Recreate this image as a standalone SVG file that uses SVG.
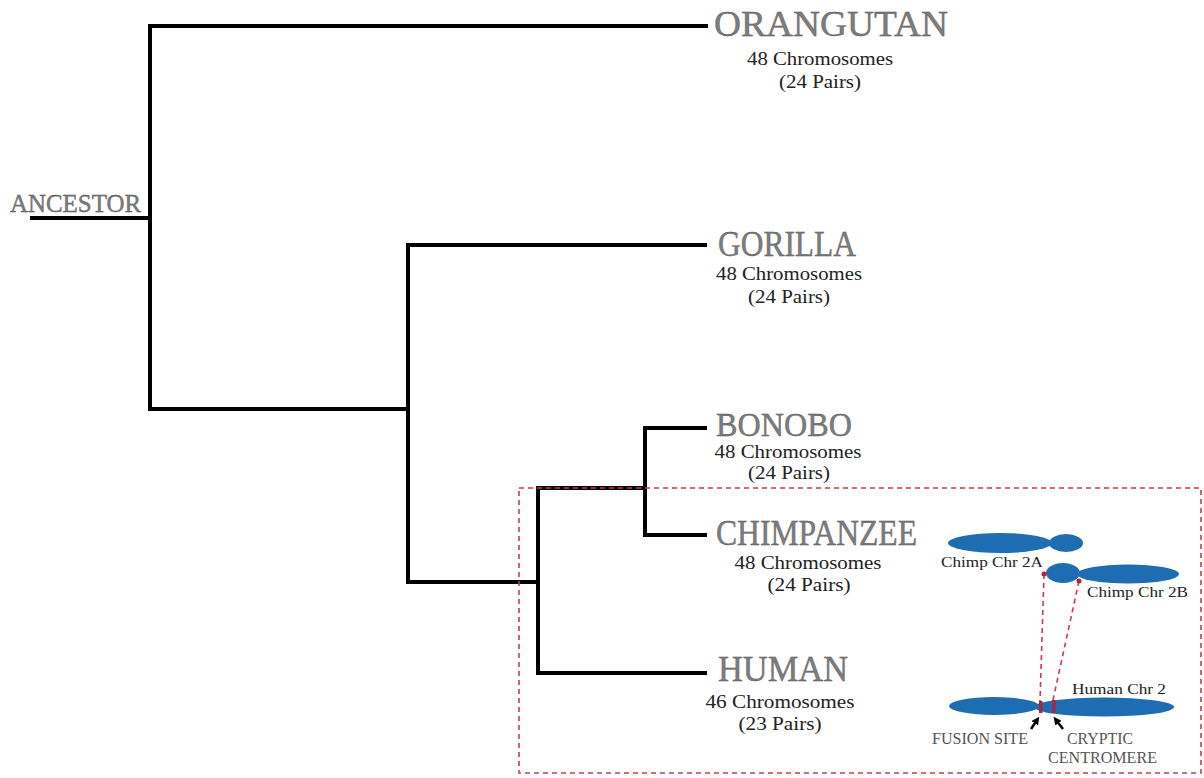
<svg xmlns="http://www.w3.org/2000/svg" width="1204" height="778" viewBox="0 0 1204 778">
  <style>
    .branch { fill: none; stroke: #000; stroke-width: 4; stroke-linecap: square; }
    .title { font-family: "Liberation Serif", "DejaVu Serif", serif; fill: #7d7d7d; stroke: #4a4a4a; stroke-width: 0.35; }
    .count { font-family: "Liberation Serif", "DejaVu Serif", serif; font-size: 18px; fill: #222; }
    .chrlabel { font-family: "Liberation Serif", "DejaVu Serif", serif; font-size: 15px; fill: #222; }
    .caps { font-family: "Liberation Serif", "DejaVu Serif", serif; font-size: 16px; fill: #555; }
    .chr { fill: #1e6db3; }
    .band { fill: #a8283a; }
    .dash { fill: none; stroke: #cf3a48; stroke-width: 1.6; stroke-dasharray: 5 4; }
    .arrow { stroke: #000; stroke-width: 2.5; fill: none; }
  </style>
  <defs>
    <marker id="head" viewBox="0 0 10 10" refX="5" refY="5" markerWidth="3.2" markerHeight="3.2" orient="auto">
      <path d="M0,0 L10,5 L0,10 z" fill="#000"/>
    </marker>
  </defs>
  <rect width="1204" height="778" fill="#fff"/>

  <!-- tree branches -->
  <g id="connectors">
    <path class="branch" d="M32,218 H150"/>
    <path class="branch" d="M150,26 V409"/>
    <path class="branch" d="M150,26 H706"/>
    <path class="branch" d="M150,409 H408"/>
    <path class="branch" d="M408,245 V582"/>
    <path class="branch" d="M408,245 H705"/>
    <path class="branch" d="M408,582 H538"/>
    <path class="branch" d="M538,488 V673"/>
    <path class="branch" d="M538,488 H645"/>
    <path class="branch" d="M538,673 H705"/>
    <path class="branch" d="M645,428 V535"/>
    <path class="branch" d="M645,428 H705"/>
    <path class="branch" d="M645,535 H705"/>
  </g>

  <g id="ancestor">
    <text class="title" x="10" y="212" font-size="25" textLength="131" lengthAdjust="spacingAndGlyphs">ANCESTOR</text>
  </g>

  <g id="orangutan">
    <text class="title" x="714" y="36" font-size="35" textLength="234" lengthAdjust="spacingAndGlyphs">ORANGUTAN</text>
    <text class="count" x="820" y="65" text-anchor="middle" textLength="146" lengthAdjust="spacingAndGlyphs">48 Chromosomes</text>
    <text class="count" x="820" y="88" text-anchor="middle" textLength="82" lengthAdjust="spacingAndGlyphs">(24 Pairs)</text>
  </g>

  <g id="gorilla">
    <text class="title" x="718" y="256" font-size="35" textLength="138" lengthAdjust="spacingAndGlyphs">GORILLA</text>
    <text class="count" x="789" y="280" text-anchor="middle" textLength="146" lengthAdjust="spacingAndGlyphs">48 Chromosomes</text>
    <text class="count" x="789" y="303" text-anchor="middle" textLength="82" lengthAdjust="spacingAndGlyphs">(24 Pairs)</text>
  </g>

  <g id="bonobo">
    <text class="title" x="716" y="436" font-size="33" textLength="136" lengthAdjust="spacingAndGlyphs">BONOBO</text>
    <text class="count" x="788" y="458" font-size="17" text-anchor="middle" textLength="147" lengthAdjust="spacingAndGlyphs">48 Chromosomes</text>
    <text class="count" x="789" y="479" text-anchor="middle" textLength="82" lengthAdjust="spacingAndGlyphs">(24 Pairs)</text>
  </g>

  <g id="chimpanzee">
    <text class="title" x="716" y="545" font-size="35" textLength="201" lengthAdjust="spacingAndGlyphs">CHIMPANZEE</text>
    <text class="count" x="808" y="569" text-anchor="middle" textLength="147" lengthAdjust="spacingAndGlyphs">48 Chromosomes</text>
    <text class="count" x="809" y="591" text-anchor="middle" textLength="83" lengthAdjust="spacingAndGlyphs">(24 Pairs)</text>
  </g>

  <g id="human">
    <text class="title" x="718" y="681" font-size="35" textLength="130" lengthAdjust="spacingAndGlyphs">HUMAN</text>
    <text class="count" x="780" y="708" text-anchor="middle" textLength="149" lengthAdjust="spacingAndGlyphs">46 Chromosomes</text>
    <text class="count" x="780" y="730" text-anchor="middle" textLength="83" lengthAdjust="spacingAndGlyphs">(23 Pairs)</text>
  </g>

  <!-- boxed inset: chromosome 2 fusion -->
  <g id="fusion-box">
    <rect class="dash" x="519" y="488" width="682" height="285"/>
  </g>

  <g id="chimp-chr-2a">
    <ellipse class="chr" cx="1000" cy="543" rx="52" ry="10"/>
    <ellipse class="chr" cx="1066" cy="543" rx="17" ry="9"/>
    <text class="chrlabel" x="941" y="567" textLength="102" lengthAdjust="spacingAndGlyphs">Chimp Chr 2A</text>
  </g>

  <g id="chimp-chr-2b">
    <ellipse class="chr" cx="1063" cy="573" rx="17" ry="10"/>
    <ellipse class="chr" cx="1128" cy="574" rx="51" ry="9.5"/>
    <text class="chrlabel" x="1087" y="597" textLength="101" lengthAdjust="spacingAndGlyphs">Chimp Chr 2B</text>
  </g>

  <g id="human-chr-2">
    <ellipse class="chr" cx="994" cy="706" rx="45" ry="9"/>
    <ellipse class="chr" cx="1104" cy="707" rx="70" ry="9.5"/>
    <rect class="band" x="1039" y="701" width="3.5" height="12"/>
    <rect class="band" x="1052" y="700" width="3.5" height="13"/>
    <text class="chrlabel" x="1072" y="694" textLength="94" lengthAdjust="spacingAndGlyphs">Human Chr 2</text>
  </g>

  <!-- dotted mapping from chimp ends to human bands -->
  <g id="mapping">
    <path class="dash" d="M1044,574 L1040,701"/>
    <path class="dash" d="M1079,581 L1053,700"/>
    <circle cx="1044" cy="574" r="2.5" fill="#b82233"/>
    <circle cx="1079" cy="581" r="2.5" fill="#b82233"/>
  </g>

  <g id="fusion-site">
    <path class="arrow" d="M1031,729 L1037,720" marker-end="url(#head)"/>
    <text class="caps" x="932" y="744" textLength="96" lengthAdjust="spacingAndGlyphs">FUSION SITE</text>
  </g>

  <g id="cryptic-centromere">
    <path class="arrow" d="M1063,729 L1056,720" marker-end="url(#head)"/>
    <text class="caps" x="1067" y="744" textLength="66" lengthAdjust="spacingAndGlyphs">CRYPTIC</text>
    <text class="caps" x="1048" y="763" textLength="109" lengthAdjust="spacingAndGlyphs">CENTROMERE</text>
  </g>
</svg>
